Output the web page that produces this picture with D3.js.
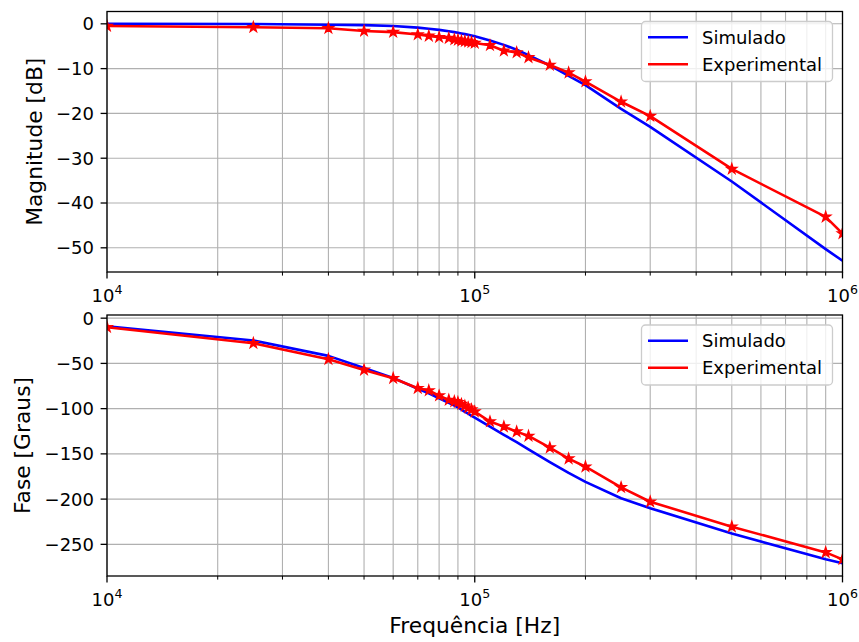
<!DOCTYPE html>
<html>
<head>
<meta charset="utf-8">
<script src="https://cdn.jsdelivr.net/npm/d3@7"></script>
<style>
  html, body { margin: 0; padding: 0; background: #fff; }
  svg { display: block; font-family: "DejaVu Sans", sans-serif; }
</style>
</head>
<body>
<svg id="chart" width="859" height="642"></svg>
<script>
// ---------- data ----------
const freq = [10000, 25000, 40000, 50000, 60000, 70000, 75000, 80000, 85000, 88000, 90000, 92000, 94000, 96000, 98000,
  100000, 110000, 120000, 130000, 140000, 160000, 180000, 200000, 250000, 300000, 500000, 900000, 1000000];
const magSim = [0, -0.05, -0.2, -0.3, -0.5, -0.85, -1.1, -1.35, -1.65, -1.85, -2.0, -2.15, -2.3, -2.45, -2.6,
  -2.8, -3.7, -4.7, -5.8, -7.0, -9.3, -11.6, -13.7, -19.0, -23.0, -35.2, -50.3, -52.9];
const magExp = [-0.5, -0.75, -1.0, -1.6, -1.85, -2.4, -2.7, -3.0, -3.2, -3.5, -3.6, -3.8, -3.9, -4.0, -4.1,
  -4.3, -4.8, -6.0, -6.4, -7.5, -9.2, -10.9, -12.9, -17.4, -20.6, -32.4, -43.1, -46.8];
const phaseSim = [-9, -24.7, -41.7, -55, -66, -78, -83, -88.5, -93.5, -96.5, -98.5, -101, -103.5, -105.5, -108,
  -110, -120, -129, -137, -145, -159, -171, -181, -199, -210, -238, -266.6, -271];
const phaseExp = [-10, -27.7, -45.4, -57.2, -66.4, -77.4, -80, -85.6, -90.4, -92, -93, -95, -97, -99, -101,
  -103.3, -114.3, -119.9, -125.4, -130.2, -143.1, -155.3, -164.2, -187, -202.9, -230.5, -258.9, -266.6];
const magTicks = [0, -10, -20, -30, -40, -50];
const phaseTicks = [0, -50, -100, -150, -200, -250];
const decadeTicks = [1e4, 1e5, 1e6];
const decadeExps = ["4", "5", "6"];
const seriesNames = ["Simulado", "Experimental"];
const seriesColors = ["#0000ff", "#ff0000"];

// ---------- layout ----------
const svg = d3.select("#chart");
const X0 = 107, X1 = 842.5;
const x = d3.scaleLog().domain([1e4, 1e6]).range([X0, X1]);
const minorTicks = [];
for (let d = 1e4; d < 1e6; d *= 10) for (let k = 2; k <= 9; k++) minorTicks.push(d * k);

const panels = [
  { top: 11.5, bottom: 272, domain: [-55.4, 2.75], ticks: magTicks, sim: magSim, exp: magExp,
    label: "Magnitude [dB]", labelX: 42, legendTop: 21.5, clip: "c1" },
  { top: 315, bottom: 576, domain: [-285, 3.5], ticks: phaseTicks, sim: phaseSim, exp: phaseExp,
    label: "Fase [Graus]", labelX: 30, legendTop: 325, clip: "c2" }
];

const fmt = v => (v < 0 ? "\u2212" + Math.abs(v) : String(v));
const defs = svg.append("defs");

panels.forEach(p => {
  const y = d3.scaleLinear().domain(p.domain).range([p.bottom, p.top]);
  const g = svg.append("g");
  defs.append("clipPath").attr("id", p.clip).append("rect")
    .attr("x", X0).attr("y", p.top).attr("width", X1 - X0).attr("height", p.bottom - p.top);

  // grid
  const grid = g.append("g").attr("stroke", "#b0b0b0").attr("stroke-width", 1.1);
  grid.selectAll("line.vx").data(decadeTicks.concat(minorTicks)).join("line")
    .attr("x1", d => x(d)).attr("x2", d => x(d)).attr("y1", p.top).attr("y2", p.bottom);
  grid.selectAll("line.hy").data(p.ticks).join("line")
    .attr("x1", X0).attr("x2", X1).attr("y1", d => y(d)).attr("y2", d => y(d));

  // lines
  const line = vals => d3.line().x((d, i) => x(freq[i])).y(d => y(d))(vals);
  const plot = g.append("g").attr("clip-path", `url(#${p.clip})`);
  plot.append("path").attr("d", line(p.sim)).attr("fill", "none")
    .attr("stroke", seriesColors[0]).attr("stroke-width", 2.6).attr("stroke-linejoin", "round");
  plot.append("path").attr("d", line(p.exp)).attr("fill", "none")
    .attr("stroke", seriesColors[1]).attr("stroke-width", 2.6).attr("stroke-linejoin", "round");
  const star = d3.symbol().type(d3.symbolStar).size(30);
  plot.selectAll("path.star").data(p.exp).join("path").attr("class", "star")
    .attr("d", star)
    .attr("transform", (d, i) => `translate(${x(freq[i])},${y(d)})`)
    .attr("fill", seriesColors[1]).attr("stroke", seriesColors[1]).attr("stroke-width", 1.4)
    .attr("stroke-linejoin", "miter");

  // spines
  g.append("rect").attr("x", X0).attr("y", p.top).attr("width", X1 - X0).attr("height", p.bottom - p.top)
    .attr("fill", "none").attr("stroke", "#000").attr("stroke-width", 1.3);

  // y axis ticks
  const yt = g.append("g");
  yt.selectAll("line").data(p.ticks).join("line")
    .attr("x1", X0 - 6.4).attr("x2", X0).attr("y1", d => y(d)).attr("y2", d => y(d))
    .attr("stroke", "#000").attr("stroke-width", 1.3);
  yt.selectAll("text").data(p.ticks).join("text")
    .attr("x", X0 - 13).attr("y", d => y(d)).attr("dy", "0.36em")
    .attr("text-anchor", "end").attr("font-size", 18).attr("fill", "#000")
    .text(fmt);

  // x axis ticks
  const xt = g.append("g");
  xt.selectAll("line.maj").data(decadeTicks).join("line")
    .attr("x1", d => x(d)).attr("x2", d => x(d)).attr("y1", p.bottom).attr("y2", p.bottom + 6.4)
    .attr("stroke", "#000").attr("stroke-width", 1.3);
  xt.selectAll("line.min").data(minorTicks).join("line").attr("class", "min")
    .attr("x1", d => x(d)).attr("x2", d => x(d)).attr("y1", p.bottom).attr("y2", p.bottom + 3.6)
    .attr("stroke", "#000").attr("stroke-width", 1.0);
  const xl = xt.selectAll("text").data(decadeTicks).join("text")
    .attr("x", d => x(d)).attr("y", p.bottom + 30)
    .attr("text-anchor", "middle").attr("font-size", 18).attr("fill", "#000");
  xl.append("tspan").text("10");
  xl.append("tspan").attr("font-size", 12.6).attr("dy", -8).text((d, i) => decadeExps[i]);

  // y label
  g.append("text")
    .attr("transform", `translate(${p.labelX},${(p.top + p.bottom) / 2}) rotate(-90)`)
    .attr("text-anchor", "middle").attr("font-size", 21.8).attr("fill", "#000")
    .text(p.label);

  // legend
  const lg = g.append("g").attr("transform", `translate(641.5,${p.legendTop})`);
  lg.append("rect").attr("width", 191).attr("height", 60).attr("rx", 4).attr("ry", 4)
    .attr("fill", "#fff").attr("fill-opacity", 0.8).attr("stroke", "#cccccc").attr("stroke-width", 1.3);
  seriesNames.forEach((name, i) => {
    const cy = 15.8 + i * 27;
    lg.append("line").attr("x1", 6.5).attr("x2", 46.5).attr("y1", cy).attr("y2", cy)
      .attr("stroke", seriesColors[i]).attr("stroke-width", 2.6);
    lg.append("text").attr("x", 60.5).attr("y", cy).attr("dy", "0.36em")
      .attr("font-size", 18).attr("fill", "#000").text(name);
  });
});

// x label
svg.append("text").attr("x", (X0 + X1) / 2).attr("y", 633)
  .attr("text-anchor", "middle").attr("font-size", 21.8).attr("fill", "#000")
  .text("Frequência [Hz]");
</script>
</body>
</html>
